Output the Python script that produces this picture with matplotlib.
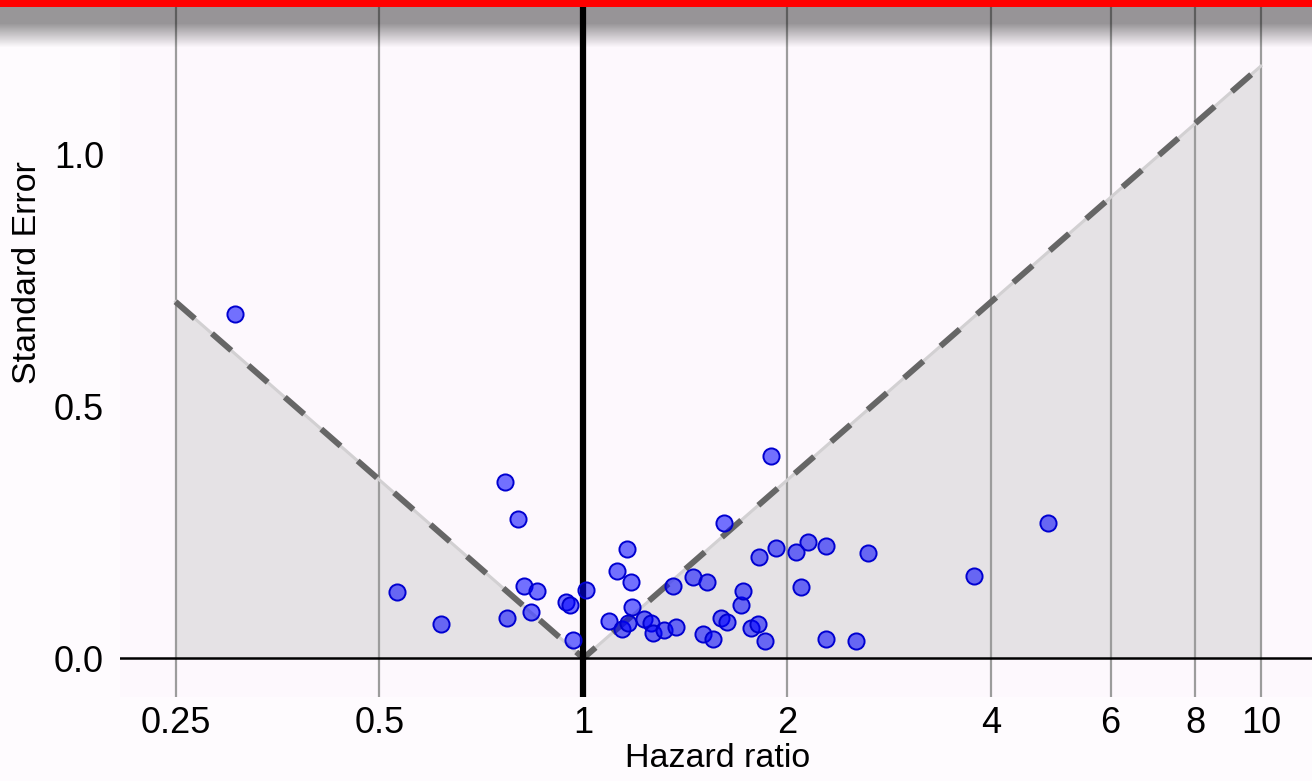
import matplotlib
matplotlib.use("Agg")
import matplotlib.pyplot as plt
import numpy as np

plt.rcParams['font.family'] = ['Liberation Sans', 'DejaVu Sans']

# study estimates
hazard_ratio = [0.306, 0.530, 0.616, 0.767, 0.772, 0.801, 0.817, 0.837, 0.853, 0.944,
                0.957, 0.964, 1.008, 1.092, 1.122, 1.158, 1.141, 1.164, 1.174, 1.178,
                1.227, 1.259, 1.269, 1.317, 1.371, 1.356, 1.453, 1.523, 1.503, 1.554,
                1.614, 1.599, 1.629, 1.711, 1.720, 1.765, 1.809, 1.854, 1.817, 1.891,
                1.923, 2.060, 2.095, 2.148, 2.283, 2.283, 2.526, 2.631, 3.774, 4.857]
std_error = [0.683, 0.132, 0.068, 0.349, 0.079, 0.276, 0.143, 0.091, 0.134, 0.111,
             0.105, 0.037, 0.135, 0.073, 0.174, 0.216, 0.057, 0.069, 0.151, 0.102,
             0.077, 0.070, 0.050, 0.056, 0.061, 0.143, 0.161, 0.151, 0.048, 0.038,
             0.268, 0.079, 0.072, 0.105, 0.134, 0.059, 0.067, 0.035, 0.200, 0.401,
             0.218, 0.210, 0.141, 0.230, 0.222, 0.039, 0.034, 0.209, 0.163, 0.268]

x_ticks = [0.25, 0.5, 1, 2, 4, 6, 8, 10]
x_labels = ['0.25', '0.5', '1', '2', '4', '6', '8', '10']
y_ticks = [0.0, 0.5, 1.0]
y_labels = ['0.0', '0.5', '1.0']

# funnel edges: SE = |ln HR| / 1.96
funnel_x = np.array([0.25, 1.0, 10.0])
funnel_y = np.abs(np.log(funnel_x)) / 1.96

W, H = 1312, 781
fig = plt.figure(figsize=(W / 100, H / 100), dpi=100, facecolor='#fefbfe')
ax = fig.add_axes([120 / W, 84 / H, 1 - 120 / W, 1 - 84 / H])
ax.set_facecolor('#fdf8fd')
ax.set_xscale('log')
ax.set_xlim(0.207, 11.9)
ax.set_ylim(-0.077, 1.306)

ax.fill_between(funnel_x, 0, funnel_y, color='#e5e2e5', lw=0, zorder=0.2)
ax.set_axisbelow(True)
ax.grid(axis='x', color='#9c9c9c', lw=1.6)
ax.grid(axis='y', visible=False)
ax.plot(funnel_x, funnel_y, color='#d2d0d2', lw=2.2, zorder=2)
ax.plot(funnel_x, funnel_y, color='#666666', lw=4.3, ls=(0, (4.3, 3.8)), zorder=2.1)
ax.axvline(1, color='black', lw=4.5, zorder=2.5)
ax.axhline(0, color='black', lw=1.8, zorder=2.5)

ax.scatter(hazard_ratio, std_error, s=135, facecolor=(0, 0, 1, 0.55),
           edgecolor='#0000d0', linewidth=1.4, zorder=3)

ax.set_xticks(x_ticks)
ax.set_xticklabels(x_labels)
ax.xaxis.set_minor_locator(matplotlib.ticker.NullLocator())
ax.set_yticks(y_ticks)
ax.set_yticklabels(y_labels)
ax.tick_params(axis='both', length=0, labelsize=26)
ax.tick_params(axis='x', pad=6.5)
ax.tick_params(axis='y', pad=11.5)
for s in ax.spines.values():
    s.set_visible(False)

fig.text(718 / W, 1 - 767 / H, 'Hazard ratio', ha='center', va='baseline', fontsize=24.5)
fig.text(28 / W, 1 - 273 / H, 'Standard Error', ha='center', va='center',
         rotation=90, fontsize=24.5)

# red bar and shadow across the top
band = 50
img = np.zeros((band, 1, 4))
for i in range(band):
    if i < 7:
        img[i, 0] = [1, 0, 0, 1]
    elif i < 23:
        img[i, 0] = [0, 0, 0, 0.4]
    else:
        img[i, 0] = [0, 0, 0, max(0.0, 0.4 * (1 - (i - 23) / 24))]
top = fig.add_axes([0, 1 - band / H, 1, band / H], zorder=10)
top.imshow(img, aspect='auto', interpolation='nearest', extent=[0, 1, 0, 1])
top.axis('off')

fig.savefig('out.png', dpi=100, facecolor=fig.get_facecolor())
